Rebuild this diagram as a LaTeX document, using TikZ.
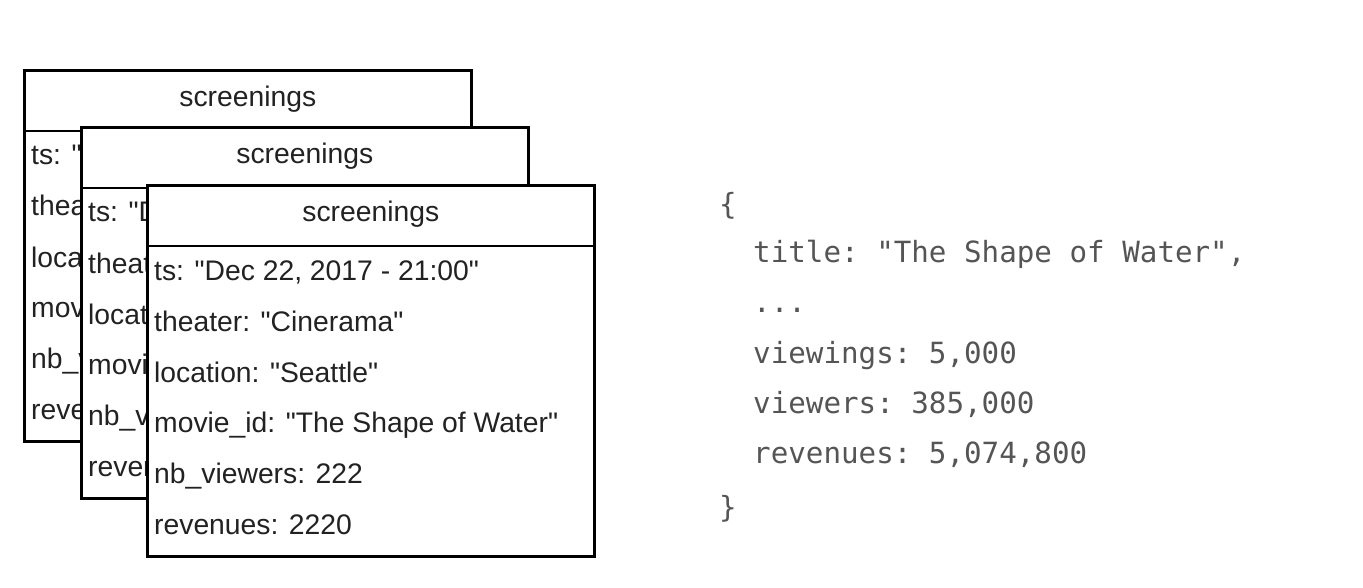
\documentclass[tikz,border=0pt]{standalone}
\usepackage{fontspec}
\setmainfont{Liberation Sans}
\newfontfamily\codefont{DejaVu Sans Mono}
\newcommand\qq{\textquotedbl}
\definecolor{boxtext}{HTML}{222222}
\definecolor{codegray}{HTML}{555555}
\begin{document}
\begin{tikzpicture}[x=1pt,y=-1pt,
  box/.style={draw=black,line width=2.6pt,fill=white,minimum width=447pt,minimum height=371pt,inner sep=0pt,anchor=north west},
  hdr/.style={font=\fontsize{28.3}{31}\selectfont,text=boxtext,inner sep=0pt,anchor=base},
  rowtext/.style={font=\fontsize{28.3}{31}\selectfont,text=boxtext,inner sep=0pt,anchor=base west},
  code/.style={font=\codefont\fontsize{29.2}{32}\selectfont\frenchspacing,text=codegray,inner sep=0pt,anchor=base west}]
\useasboundingbox (0,0) rectangle (1363,588);
\foreach \i/\x/\y in {1/23/69,2/80/126,3/146/184}{
  \node[box] (b\i) at (\x,\y) {};
  \draw[line width=2.6pt] ([yshift=-62pt]b\i.north west) -- ([yshift=-62pt]b\i.north east);
  \node[hdr] (h\i) at ([yshift=-38pt]b\i.north) {screenings};
  \node[rowtext] (r\i a) at ([xshift=8pt,yshift=-96pt]b\i.north west) {ts: \qq Dec 22, 2017 - 21:00\qq};
  \node[rowtext] (r\i b) at ([xshift=8pt,yshift=-147pt]b\i.north west) {theater: \qq Cinerama\qq};
  \node[rowtext] (r\i c) at ([xshift=8pt,yshift=-198pt]b\i.north west) {location: \qq Seattle\qq};
  \node[rowtext] (r\i d) at ([xshift=8pt,yshift=-248pt]b\i.north west) {movie\_id: \qq The Shape of Water\qq};
  \node[rowtext] (r\i e) at ([xshift=8pt,yshift=-299pt]b\i.north west) {nb\_viewers: 222};
  \node[rowtext] (r\i f) at ([xshift=8pt,yshift=-350pt]b\i.north west) {revenues: 2220};
}
\node[code] (c0) at (719,215) {\{};
\node[code] (c1) at (753,262) {title: \qq The Shape of Water\qq,};
\node[code] (c2) at (753,312) {...};
\node[code] (c3) at (753,363) {viewings: 5,000};
\node[code] (c4) at (753,413) {viewers: 385,000};
\node[code] (c5) at (753,463) {revenues: 5,074,800};
\node[code] (c6) at (719,517) {\}};
\end{tikzpicture}
\end{document}
